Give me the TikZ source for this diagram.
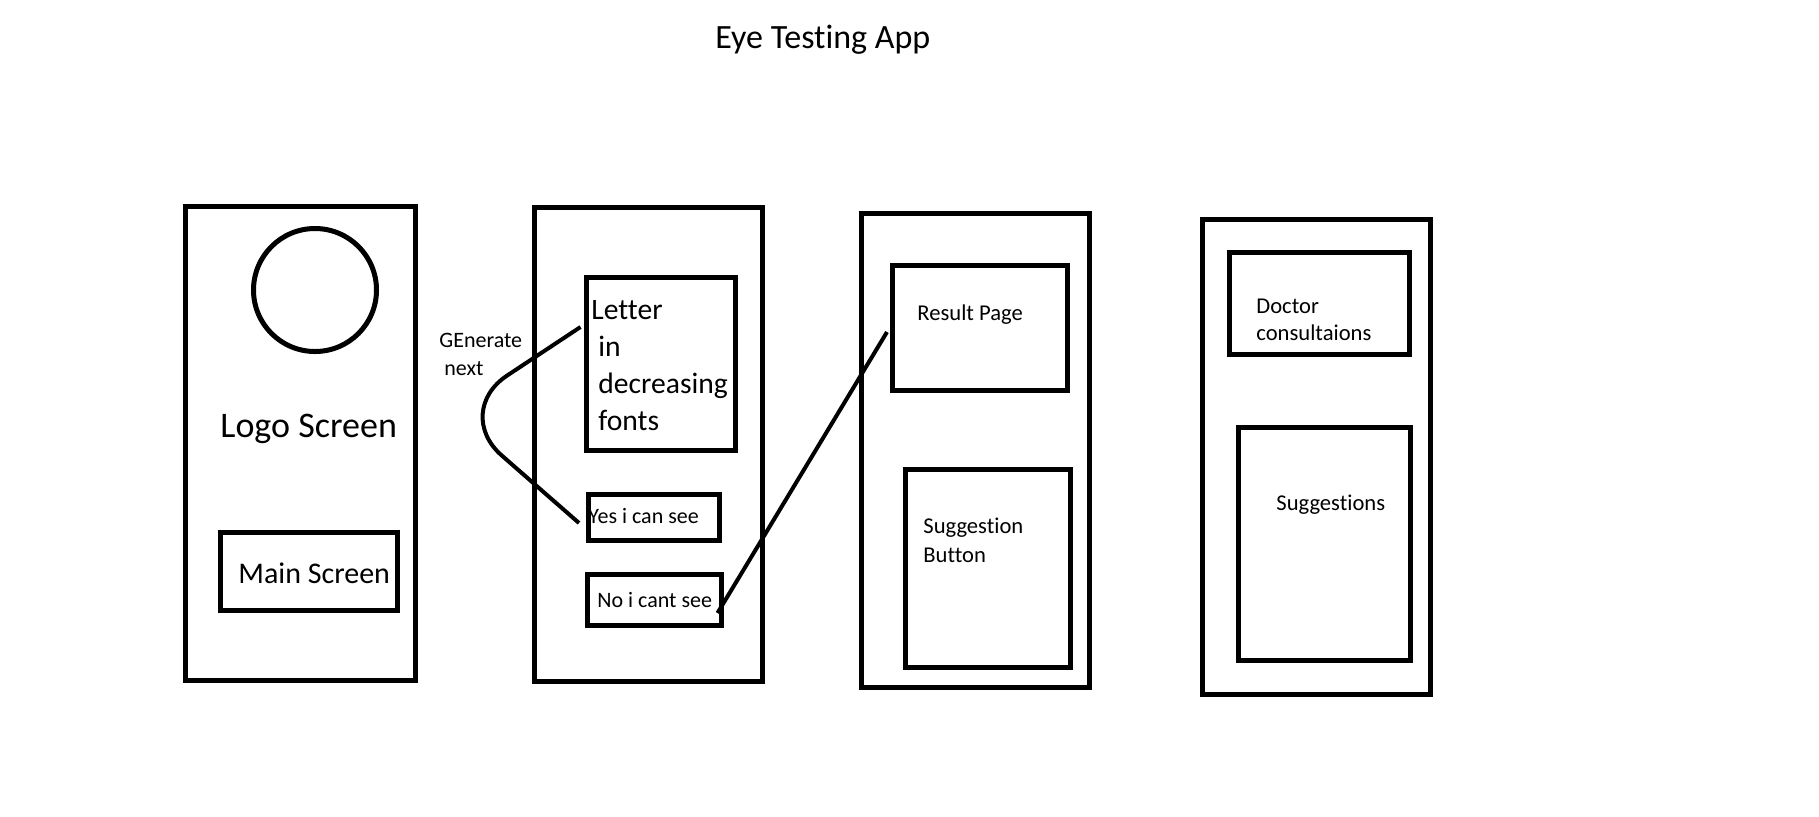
\documentclass[tikz,border=0pt]{standalone}
\usepackage{fontspec}
\setmainfont{Carlito}[Ligatures=NoCommon]
\usepackage{tikz}
\usetikzlibrary{calc}

\begin{document}
\begin{tikzpicture}[x=0.5pt, y=-0.5pt,
  screen/.style={draw, line width=2.5pt, inner sep=0pt, minimum width=114pt, minimum height=237pt},
  pane/.style={draw, line width=2.5pt, inner sep=0pt},
  lbl/.style={anchor=base west, inner sep=0pt, align=left}]
\useasboundingbox (0,0) rectangle (1819,816);
\node[lbl, font=\fontsize{17pt}{20pt}\selectfont] (title) at (715,48) {Eye Testing App};

% the four screens
\node[screen, minimum width=115pt] (logoscr) at (300.5,443.5) {};
\node[screen] (testscr) at (648.5,444.5) {};
\node[screen] (resscr) at (975.5,450.5) {};
\node[screen, minimum height=237.5pt] (docscr) at (1316.5,457) {};

% logo screen
\node[draw, circle, line width=2.5pt, minimum size=61.5pt, inner sep=0pt] (logo) at (315,290) {};
\node[lbl, font=\fontsize{18pt}{22pt}\selectfont] (logotxt) at (220,437) {Logo Screen};
\node[pane, minimum width=88.5pt, minimum height=39pt] (mainbtn) at (309,571.5) {};
\node[lbl, font=\fontsize{15pt}{18pt}\selectfont] (maintxt) at (238,583) {Main Screen};

% test screen (multi-line labels sit on their last line)
\node[pane, minimum width=74.5pt, minimum height=86.5pt] (letter) at (661,364) {};
\node[lbl, font=\fontsize{14.8pt}{18.5pt}\selectfont] (lettertxt) at (591,430)
  {Letter\\\hspace*{3.5pt}in\\\hspace*{3.5pt}decreasing\\\hspace*{3.5pt}fonts};
\node[pane, minimum width=65.5pt, minimum height=23pt] (yes) at (654,517.5) {};
\node[lbl, font=\fontsize{11pt}{13pt}\selectfont] (yestxt) at (588,523) {Yes i can see};
\node[pane, minimum width=67pt, minimum height=25.5pt] (no) at (654.5,600) {};
\node[lbl, font=\fontsize{11pt}{13pt}\selectfont] (notxt) at (597,607) {No i cant see};
\node[lbl, font=\fontsize{11pt}{14pt}\selectfont] (gentxt) at (439,375) {GEnerate\\\hspace*{2.5pt}next};

% result screen
\node[pane, minimum width=87.5pt, minimum height=62.5pt] (result) at (980,328) {};
\node[lbl, font=\fontsize{11.3pt}{13pt}\selectfont] (resulttxt) at (917,320) {Result Page};
\node[pane, minimum width=82.5pt, minimum height=99pt] (sugbtn) at (988,568.5) {};
\node[lbl, font=\fontsize{11.3pt}{14.5pt}\selectfont] (sugbtntxt) at (923,562) {Suggestion\\Button};

% doctor screen
\node[pane, minimum width=90pt, minimum height=51pt] (doctor) at (1319.5,303.5) {};
\node[lbl, font=\fontsize{11.3pt}{13.5pt}\selectfont] (doctortxt) at (1256,340) {Doctor\\consultaions};
\node[pane, minimum width=86pt, minimum height=116.5pt] (sugg) at (1324.5,544) {};
\node[lbl, font=\fontsize{11.3pt}{13pt}\selectfont] (suggtxt) at (1276,510) {Suggestions};

% connectors
\coordinate (bend) at (452,412);
\draw[line width=2pt, rounded corners=33pt] ($(letter.west)+(-3.5,-37)$) -- (bend) -- ($(yes.west)+(-7,5.5)$);
\draw[line width=2pt] ($(no.east)+(-6.5,13)$) -- ($(result.west)+(-3,4)$);
\end{tikzpicture}
\end{document}
